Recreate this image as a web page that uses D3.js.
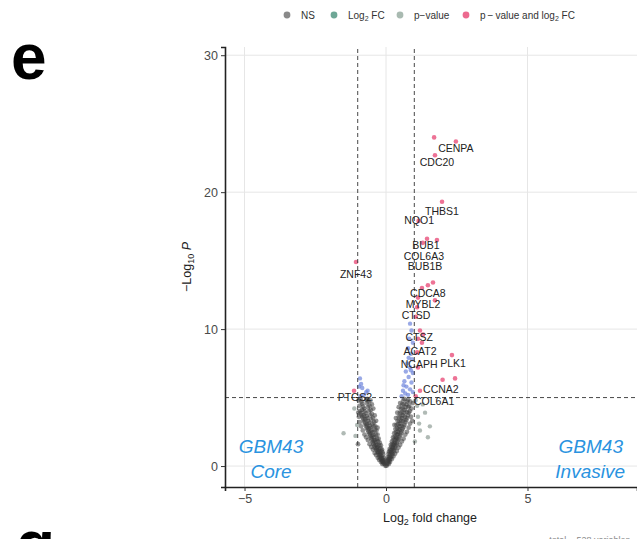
<!DOCTYPE html>
<html>
<head>
<meta charset="utf-8">
<script src="https://cdn.jsdelivr.net/npm/d3@7"></script>
<style>
  body { margin: 0; background: #fff; }
  svg { display: block; font-family: "Liberation Sans", Arial, sans-serif; }
</style>
</head>
<body>
<script>
// chart size
var width = 637;
var height = 539;

// ---- data ----
// non significant genes, [log2FC, -log10 p]
var nsPoints = [
  [-0.02,0.02],[-0.05,0.15],[-0.07,0.3],[-0.09,0.2],[-0.1,0.45],[-0.12,0.35],[-0.14,0.6],[-0.15,0.4],
  [-0.17,0.75],[-0.19,0.55],[-0.2,0.9],[-0.22,0.65],[-0.23,1.05],[-0.25,0.8],[-0.26,1.2],[-0.28,0.95],
  [-0.3,1.4],[-0.31,1.05],[-0.33,1.55],[-0.34,1.2],[-0.36,1.75],[-0.38,1.3],[-0.39,1.9],[-0.41,1.45],
  [-0.42,2.1],[-0.44,1.6],[-0.45,2.25],[-0.47,1.75],[-0.48,2.45],[-0.5,1.9],[-0.51,2.6],[-0.53,2.05],
  [-0.54,2.8],[-0.56,2.2],[-0.57,2.95],[-0.59,2.35],[-0.6,3.15],[-0.62,2.5],[-0.63,3.3],[-0.65,2.65],
  [-0.66,3.5],[-0.68,2.8],[-0.69,3.65],[-0.71,2.95],[-0.72,3.85],[-0.74,3.1],[-0.75,4.0],[-0.77,3.25],
  [-0.78,4.2],[-0.8,3.4],[-0.81,4.35],[-0.83,3.55],[-0.84,4.55],[-0.86,3.7],[-0.87,4.7],[-0.89,3.85],
  [-0.9,4.9],[-0.92,4.0],[-0.94,4.4],[-0.96,3.6],[-0.97,4.8],[-0.93,3.2],[-0.88,2.9],[-0.82,2.6],
  [-0.76,2.3],[-0.7,2.1],[-0.64,1.9],[-0.58,1.6],[-0.52,1.4],[-0.46,1.2],[-0.4,0.95],[-0.35,0.8],
  [-0.29,0.6],[-0.24,0.45],[-0.18,0.3],[-0.13,0.15],[-0.85,4.1],[-0.79,3.7],[-0.73,3.4],[-0.67,3.05],
  [-0.61,2.75],[-0.55,2.45],[-0.49,2.15],[-0.43,1.85],[-0.37,1.55],[-0.32,1.3],[-0.27,1.05],[-0.21,0.8],
  [-0.16,0.55],[-0.11,0.3],[-0.99,1.6],[-0.98,3.9],
  [-0.05,0.4],[-0.08,0.6],[-0.1,0.85],[-0.12,1.0],[-0.14,1.2],[-0.16,1.1],[-0.18,1.5],[-0.2,1.3],
  [-0.22,1.7],[-0.24,1.5],[-0.26,2.0],[-0.28,1.8],[-0.3,2.3],[-0.32,2.0],[-0.34,2.6],[-0.36,2.3],
  [-0.38,2.9],[-0.4,2.6],[-0.42,3.2],[-0.44,2.9],[-0.46,3.5],[-0.48,3.1],[-0.5,3.8],[-0.52,3.4],
  [-0.54,4.1],[-0.56,3.7],[-0.58,4.4],[-0.6,4.0],[-0.62,4.7],[-0.64,4.3],[-0.66,4.9],[-0.68,4.6],
  [-0.55,4.8],[-0.5,4.5],[-0.45,4.2],[-0.7,4.85],[-0.4,3.7],[-0.35,3.3],[-0.3,2.8],
  [0.02,0.03],[0.04,0.15],[0.06,0.35],[0.08,0.25],[0.09,0.5],[0.11,0.4],[0.12,0.7],[0.14,0.5],
  [0.15,0.85],[0.17,0.65],[0.18,1.0],[0.2,0.75],[0.21,1.2],[0.23,0.9],[0.24,1.35],[0.26,1.05],
  [0.27,1.55],[0.29,1.2],[0.3,1.7],[0.32,1.35],[0.33,1.9],[0.35,1.5],[0.36,2.1],[0.38,1.65],
  [0.39,2.3],[0.41,1.8],[0.42,2.5],[0.44,1.95],[0.45,2.7],[0.47,2.1],[0.48,2.9],[0.5,2.25],
  [0.51,3.1],[0.53,2.4],[0.54,3.3],[0.56,2.55],[0.57,3.5],[0.59,2.7],[0.6,3.7],[0.62,2.85],
  [0.63,3.9],[0.65,3.0],[0.66,4.1],[0.68,3.2],[0.69,4.3],[0.71,3.35],[0.72,4.5],[0.74,3.5],
  [0.75,4.7],[0.77,3.7],[0.78,4.85],[0.8,3.9],[0.82,4.4],[0.84,4.0],[0.86,4.7],[0.88,3.6],
  [0.9,4.2],[0.93,3.3],[0.95,4.6],[0.85,3.1],[0.8,2.8],[0.74,2.5],[0.68,2.3],[0.62,2.0],
  [0.56,1.8],[0.5,1.55],[0.44,1.35],[0.38,1.1],[0.32,0.9],[0.26,0.7],[0.2,0.5],[0.14,0.3],
  [0.1,0.15],[0.79,4.3],[0.73,3.95],[0.67,3.6],[0.61,3.3],[0.55,2.95],[0.49,2.65],[0.43,2.35],
  [0.37,2.0],[0.31,1.6],[0.25,1.3],[0.19,1.0],[0.13,0.6],
  [0.05,0.45],[0.07,0.65],[0.09,0.9],[0.11,1.05],[0.13,1.25],[0.15,1.15],[0.17,1.55],[0.19,1.4],
  [0.21,1.8],[0.23,1.6],[0.25,2.1],[0.27,1.9],[0.29,2.4],[0.31,2.15],[0.33,2.7],[0.35,2.45],
  [0.37,3.0],[0.39,2.75],[0.41,3.3],[0.43,3.05],[0.45,3.6],[0.47,3.3],[0.49,3.9],[0.51,3.6],
  [0.53,4.2],[0.55,3.9],[0.57,4.5],[0.59,4.2],[0.61,4.8],[0.63,4.5],[0.5,4.6],[0.45,4.3],
  [0.4,3.9],[0.35,3.5],[0.3,3.0],[0.65,4.9]
];

// fold change past cut-off but p not significant
var fcPoints = [
  [-1.5,2.4],[-1.08,2.2],[-1.02,3.0],[-1.12,4.2],
  [1.38,3.9],[1.48,2.1],[1.17,3.1],[1.13,3.6],[1.02,1.8],[1.2,2.6],[1.55,2.9],[1.1,4.4],[1.05,4.8],[1.3,4.5]
];

// p significant only
var pPoints = [
  [-0.92,6.4],[-0.88,6.0],[-0.84,5.7],[-0.7,5.4],[-0.78,5.2],[-0.65,5.5],[-0.95,5.8],[-0.9,5.1],
  [0.85,10.4],[0.9,9.9],[0.82,9.3],[0.95,9.0],[0.78,8.6],[0.88,8.2],[0.92,7.8],[0.75,7.5],
  [0.85,7.2],[0.7,6.9],[0.95,6.8],[0.8,6.5],[0.65,6.2],[0.9,6.1],[0.72,5.8],[0.6,5.5],
  [0.85,5.6],[0.78,5.2],[0.68,5.3],[0.95,5.4],[0.55,5.1],[0.62,5.9],[0.88,7.0],[0.8,7.9]
];

// both significant
var bothPoints = [
  [1.70,24.0],[2.47,23.7],[1.73,22.7],[1.98,19.3],[1.15,17.9],
  [1.3,16.3],[1.45,16.6],[1.8,16.5],[1.66,13.4],[1.48,13.2],[1.27,13.0],[1.13,12.3],[1.73,12.1],
  [1.1,11.6],[1.05,10.9],[1.2,9.9],[1.31,9.6],[1.13,9.3],[1.27,9.0],[1.1,8.3],[2.33,8.1],
  [1.13,7.2],[2.0,6.3],[2.44,6.4],[1.2,5.5],[1.05,5.1],[-1.06,14.9],[-1.13,5.5]
];

// labelled genes and where the label text sits (data units)
var geneNames = ["CENPA","CDC20","THBS1","NQO1","BUB1","COL6A3","BUB1B","ZNF43","CDCA8","MYBL2",
                 "CTSD","CTSZ","ACAT2","NCAPH","PLK1","CCNA2","COL6A1","PTGS2"];
var labelFC   = [2.47,1.80,1.98,1.17,1.41,1.34,1.38,-1.06,1.48,1.31,1.06,1.17,1.20,1.17,2.37,1.94,1.70,-1.10];
var labelP    = [23.2,22.2,18.6,17.95,16.15,15.35,14.55,14.0,12.6,11.8,11.0,9.4,8.4,7.4,7.5,5.6,4.75,5.0];

var xTicks = [-5, 0, 5];
var yTicks = [0, 10, 20, 30];
var fcCut = 1;
var pCut = 5;

var legendNames = ["NS", "Log2 FC", "p\u2212value", "p\u2009\u2212\u2009value and log2 FC"];
var legendColors = ["#8a8a8a", "#6ea796", "#a9bab1", "#ec6a8f"];

// ---- canvas ----
var svg = d3.select('body').append('svg')
  .attr('width', width)
  .attr('height', height);

svg.append('rect').attr('width', width).attr('height', height).attr('fill', '#fff');

var x = d3.scaleLinear().domain([-5.69, 8.87]).range([225, 637]);
var y = d3.scaleLinear().domain([-1.53, 30.6]).range([487, 47]);

// grid
svg.append('g').selectAll('line').data(xTicks).enter().append('line')
  .attr('x1', function(d){ return x(d); }).attr('x2', function(d){ return x(d); })
  .attr('y1', y.range()[0]).attr('y2', y.range()[1])
  .attr('stroke', '#e6e6e6').attr('stroke-width', 1);
svg.append('g').selectAll('line').data(yTicks).enter().append('line')
  .attr('y1', function(d){ return y(d); }).attr('y2', function(d){ return y(d); })
  .attr('x1', x.range()[0]).attr('x2', x.range()[1])
  .attr('stroke', '#e6e6e6').attr('stroke-width', 1);

// points
function drawPoints(data, color, op, r) {
  svg.append('g').selectAll('circle').data(data).enter().append('circle')
    .attr('cx', function(d){ return x(d[0]); })
    .attr('cy', function(d){ return y(d[1]); })
    .attr('r', r)
    .attr('fill', color)
    .attr('fill-opacity', op);
}
drawPoints(nsPoints, '#3c3c3c', 0.55, 2.4);
drawPoints(fcPoints, '#8f9c95', 0.7, 2.2);
drawPoints(pPoints, '#6d84dc', 0.7, 2.2);
drawPoints(bothPoints, '#e8507c', 0.8, 2.3);

// cut-off lines
svg.append('g').selectAll('line').data([-fcCut, fcCut]).enter().append('line')
  .attr('x1', function(d){ return x(d); }).attr('x2', function(d){ return x(d); })
  .attr('y1', y.range()[0]).attr('y2', y.range()[1])
  .attr('stroke', '#333').attr('stroke-width', 0.9).attr('stroke-dasharray', '4,3');
svg.append('line')
  .attr('x1', x.range()[0]).attr('x2', x.range()[1])
  .attr('y1', y(pCut)).attr('y2', y(pCut))
  .attr('stroke', '#333').attr('stroke-width', 0.9).attr('stroke-dasharray', '4,3');

// gene labels
svg.append('g').selectAll('text').data(geneNames).enter().append('text')
  .attr('x', function(d, i){ return x(labelFC[i]); })
  .attr('y', function(d, i){ return y(labelP[i]); })
  .attr('dy', '0.35em')
  .attr('text-anchor', 'middle')
  .attr('font-size', 10.5)
  .attr('fill', '#222')
  .text(function(d){ return d; });

// axes
var yAxis = svg.append('g').attr('transform', 'translate(225,0)')
  .call(d3.axisLeft(y).tickValues(yTicks).tickSize(4).tickPadding(3).tickFormat(d3.format('d')));
var xAxis = svg.append('g').attr('transform', 'translate(0,487)')
  .call(d3.axisBottom(x).tickValues(xTicks).tickSize(4).tickPadding(3)
    .tickFormat(function(d){ return d < 0 ? '\u2212' + Math.abs(d) : d; }));
[yAxis, xAxis].forEach(function(a) {
  a.select('.domain').attr('stroke', '#222').attr('stroke-width', 1.6);
  a.selectAll('.tick line').attr('stroke', '#333');
  a.selectAll('.tick text').attr('font-size', 12.5).attr('fill', '#4a4a4a')
    .attr('font-family', '"Liberation Sans", Arial, sans-serif');
});

// axis titles
var xt = svg.append('text').attr('x', 430).attr('y', 522)
  .attr('text-anchor', 'middle').attr('font-size', 12.5).attr('fill', '#222');
xt.append('tspan').text('Log');
xt.append('tspan').attr('font-size', 9).attr('dy', 3).text('2');
xt.append('tspan').attr('dy', -3).text(' fold change');

var yt = svg.append('text').attr('transform', 'translate(191,267) rotate(-90)')
  .attr('text-anchor', 'middle').attr('font-size', 12.5).attr('fill', '#222');
yt.append('tspan').text('\u2212Log');
yt.append('tspan').attr('font-size', 9).attr('dy', 3).text('10');
yt.append('tspan').attr('dy', -3).attr('font-style', 'italic').text(' P');

// group annotations
var annoColor = '#2a93e0';
svg.append('text').attr('x', 271).attr('y', 453).attr('text-anchor', 'middle')
  .attr('font-size', 19).attr('font-style', 'italic').attr('fill', annoColor).text('GBM43');
svg.append('text').attr('x', 271).attr('y', 478).attr('text-anchor', 'middle')
  .attr('font-size', 19).attr('font-style', 'italic').attr('fill', annoColor).text('Core');
svg.append('text').attr('x', 623).attr('y', 453).attr('text-anchor', 'end')
  .attr('font-size', 19).attr('font-style', 'italic').attr('fill', annoColor).text('GBM43');
svg.append('text').attr('x', 625).attr('y', 478).attr('text-anchor', 'end')
  .attr('font-size', 19).attr('font-style', 'italic').attr('fill', annoColor).text('Invasive');

// legend
var legX = [287, 334, 400, 466];
var leg = svg.append('g').selectAll('g').data(legendNames).enter().append('g')
  .attr('transform', function(d, i){ return 'translate(' + legX[i] + ',15)'; });
leg.append('circle').attr('r', 3.4).attr('fill', function(d, i){ return legendColors[i]; });
leg.each(function(d) {
  var t = d3.select(this).append('text').attr('x', 14).attr('dy', '0.35em')
    .attr('font-size', 10).attr('fill', '#333');
  var parts = d.split('log2');
  if (parts.length > 1) {
    t.append('tspan').text(parts[0] + 'log');
    t.append('tspan').attr('font-size', 7).attr('dy', 2).text('2');
    t.append('tspan').attr('dy', -2).text(parts[1]);
    return;
  }
  parts = d.split('Log2');
  if (parts.length > 1) {
    t.append('tspan').text('Log');
    t.append('tspan').attr('font-size', 7).attr('dy', 2).text('2');
    t.append('tspan').attr('dy', -2).text(parts[1]);
    return;
  }
  t.text(d);
});

// panel letters
svg.append('text').attr('x', 11).attr('y', 79).attr('font-size', 64).attr('font-weight', 'bold')
  .attr('fill', '#000').text('e');
svg.append('text').attr('x', 16).attr('y', 566).attr('font-size', 64).attr('font-weight', 'bold')
  .attr('fill', '#000').text('g');

// caption, mostly cropped
svg.append('text').attr('x', 630).attr('y', 543).attr('text-anchor', 'end')
  .attr('font-size', 9).attr('fill', '#888').text('total = 528 variables');
</script>
</body>
</html>
